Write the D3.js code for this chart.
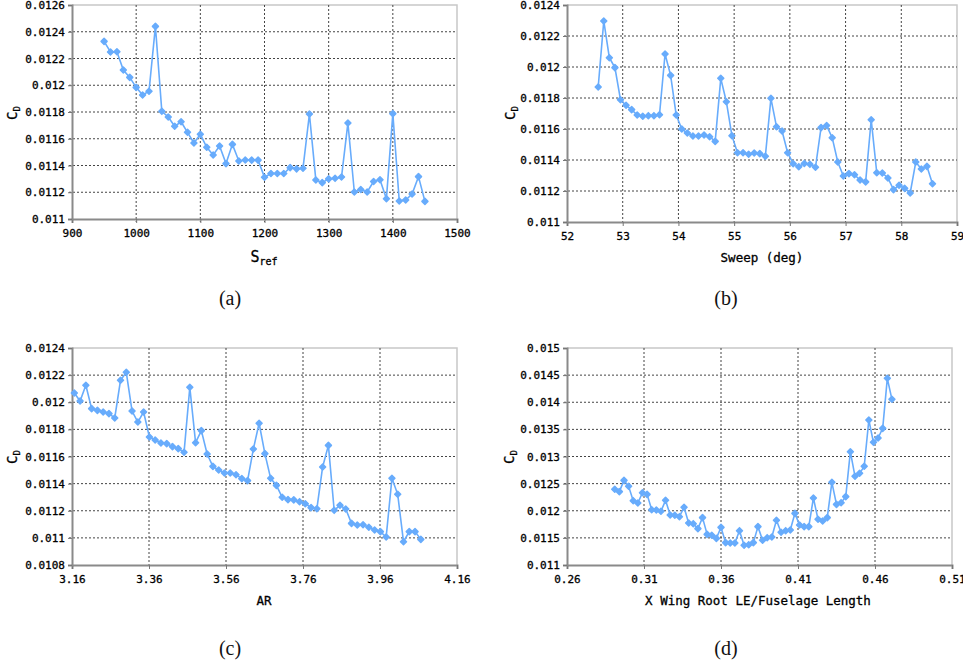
<!DOCTYPE html>
<html>
<head>
<meta charset="utf-8">
<title>CD sensitivity</title>
<script src="https://d3js.org/d3.v7.min.js"></script>
<style>
  body { margin: 0; background: #fff; }
  .tick text { font-family: "DejaVu Sans Mono", monospace; font-size: 11px; fill: #000; stroke: #000; stroke-width: 0.3px; }
  .ttl { font-family: "DejaVu Sans Mono", monospace; font-size: 12.5px; fill: #000; stroke: #000; stroke-width: 0.3px; }
  .cap { font-family: "Liberation Serif", "DejaVu Serif", serif; font-size: 20px; fill: #111; }
</style>
</head>
<body>
<div id="chart"></div>
<script>
// (a) reference area
var srefX = [950,960,970,980,990,1000,1010,1020,1030,1040,1050,1060,1070,1080,1090,1100,1110,1120,1130,1140,
  1150,1160,1170,1180,1190,1200,1210,1220,1230,1240,1250,1260,1270,1280,1290,1300,1310,1320,1330,1340,
  1350,1360,1370,1380,1390,1400,1410,1420,1430,1440,1450];
var srefCd = [0.012328,0.012249,0.01225,0.012114,0.012059,0.011984,0.011927,0.011955,0.01244,0.011805,
  0.011763,0.011693,0.011727,0.011648,0.011568,0.011633,0.011536,0.011479,0.011546,0.011414,
  0.011558,0.011434,0.011441,0.01144,0.01144,0.011312,0.01134,0.01134,0.01134,0.011384,
  0.011375,0.01138,0.011785,0.011292,0.011272,0.0113,0.011304,0.011314,0.011718,0.011202,
  0.01122,0.011202,0.01128,0.011294,0.011152,0.011788,0.011135,0.011142,0.011187,0.011317,0.011132];

// (b) sweep
var sweepX = [52.56,52.66,52.76,52.86,52.96,53.06,53.16,53.26,53.36,53.46,53.56,53.66,53.76,53.86,53.96,
  54.06,54.16,54.26,54.36,54.46,54.56,54.66,54.76,54.86,54.96,55.06,55.16,55.26,55.36,55.46,55.56,
  55.66,55.76,55.86,55.96,56.06,56.16,56.26,56.36,56.46,56.56,56.66,56.76,56.86,56.96,57.06,57.16,
  57.26,57.36,57.46,57.56,57.66,57.76,57.86,57.96,58.06,58.16,58.26,58.36,58.46,58.56];
var sweepCd = [0.011871,0.012297,0.01206,0.011996,0.011789,0.011753,0.011725,0.01169,0.011682,0.011686,
  0.011686,0.011692,0.012084,0.011946,0.01169,0.0116,0.011574,0.011555,0.011555,0.011561,
  0.01155,0.01152,0.011927,0.011776,0.011557,0.011447,0.011447,0.011437,0.011445,0.011441,
  0.011424,0.011798,0.011615,0.011587,0.011447,0.011376,0.011357,0.011378,0.011372,0.011353,
  0.011609,0.011622,0.011544,0.011387,0.011297,0.011312,0.011305,0.011271,0.011259,0.01166,
  0.011318,0.011316,0.011284,0.011209,0.011237,0.011217,0.011187,0.011387,0.011342,0.011359,0.011247];

// (c) aspect ratio
var arX = [3.166,3.181,3.196,3.211,3.226,3.241,3.256,3.271,3.286,3.301,3.316,3.331,3.346,3.361,3.376,
  3.391,3.406,3.421,3.436,3.451,3.466,3.481,3.496,3.511,3.526,3.541,3.556,3.571,3.586,3.601,3.616,
  3.631,3.646,3.661,3.676,3.691,3.706,3.721,3.736,3.751,3.766,3.781,3.796,3.811,3.826,3.841,3.856,
  3.871,3.886,3.901,3.916,3.931,3.946,3.961,3.976,3.991,4.006,4.021,4.036,4.051,4.066];
var arCd = [0.012068,0.012009,0.012125,0.011953,0.01194,0.011928,0.011916,0.011884,0.012162,0.012221,
  0.011935,0.011854,0.011928,0.011744,0.011722,0.0117,0.011695,0.011673,0.011658,0.011631,
  0.01211,0.011702,0.011791,0.011618,0.011527,0.0115,0.011478,0.011478,0.011466,0.011437,
  0.011422,0.011655,0.011845,0.011621,0.011439,0.011387,0.011299,0.011282,0.01128,0.011267,
  0.011252,0.011223,0.011215,0.011523,0.011682,0.011203,0.01124,0.011213,0.011107,0.011095,
  0.011097,0.011078,0.011058,0.011046,0.011006,0.011439,0.011321,0.010972,0.011046,0.011046,0.010989];

// (d) wing root LE position
var xleX = [0.291,0.294,0.297,0.300,0.303,0.306,0.309,0.312,0.315,0.318,0.321,0.324,0.327,0.330,0.333,
  0.336,0.339,0.342,0.345,0.348,0.351,0.354,0.357,0.360,0.363,0.366,0.369,0.372,0.375,0.378,0.381,
  0.384,0.387,0.390,0.393,0.396,0.399,0.402,0.405,0.408,0.411,0.414,0.417,0.420,0.423,0.426,0.429,
  0.432,0.435,0.438,0.441,0.444,0.447,0.450,0.453,0.456,0.459,0.462,0.465,0.468,0.471];
var xleCd = [0.012395,0.012352,0.01256,0.01245,0.012186,0.012143,0.012333,0.012302,0.01202,0.012014,
  0.01199,0.012192,0.011922,0.011916,0.011891,0.012063,0.011774,0.011762,0.01167,0.011873,
  0.011565,0.011547,0.011491,0.011694,0.011412,0.011406,0.011406,0.011633,0.011363,0.011375,
  0.011412,0.011707,0.011455,0.011504,0.011517,0.011824,0.011602,0.011633,0.011645,0.011952,
  0.011737,0.011707,0.011707,0.012235,0.011842,0.011811,0.011873,0.012524,0.012118,0.012149,
  0.01226,0.013089,0.012635,0.01269,0.012819,0.013673,0.013261,0.013341,0.013519,0.014441,0.014054];

// tick values
var ticksA = [900,1000,1100,1200,1300,1400,1500];
var ticksB = [52,53,54,55,56,57,58,59];
var ticksC = [3.16,3.36,3.56,3.76,3.96,4.16];
var ticksD = [0.26,0.31,0.36,0.41,0.46,0.51];
var yTicksA = [0.011,0.0112,0.0114,0.0116,0.0118,0.012,0.0122,0.0124,0.0126];
var yTicksB = [0.011,0.0112,0.0114,0.0116,0.0118,0.012,0.0122,0.0124];
var yTicksC = [0.0108,0.011,0.0112,0.0114,0.0116,0.0118,0.012,0.0122,0.0124];
var yTicksD = [0.011,0.0115,0.012,0.0125,0.013,0.0135,0.014,0.0145,0.015];

var W = 963, H = 661;
var blue = "#68acfc";

var svg = d3.select("#chart").append("svg")
  .attr("width", W).attr("height", H);

var fmt = function (d) { return String(+d.toFixed(5)); };

function panel(p) {
  var g = svg.append("g");
  var x = d3.scaleLinear().domain(p.xd).range([p.l, p.r]);
  var y = d3.scaleLinear().domain(p.yd).range([p.b, p.t]);

  // frame top/right
  g.append("path")
    .attr("d", "M" + p.l + "," + p.t + "H" + p.r + "V" + p.b)
    .attr("fill", "none").attr("stroke", "#c8c8c8").attr("stroke-width", 1.5);

  // grid
  g.append("g").selectAll("line").data(p.xt.slice(1, -1)).join("line")
    .attr("x1", d => x(d)).attr("x2", d => x(d))
    .attr("y1", p.t).attr("y2", p.b + 3)
    .attr("stroke", "#444").attr("stroke-dasharray", "2,2").attr("stroke-width", 1);
  g.append("g").selectAll("line").data(p.yt.slice(1, -1)).join("line")
    .attr("x1", p.l - 3).attr("x2", p.r)
    .attr("y1", d => y(d)).attr("y2", d => y(d))
    .attr("stroke", "#444").attr("stroke-dasharray", "2,2").attr("stroke-width", 1);

  // axes
  var xa = g.append("g").attr("transform", "translate(0," + p.b + ")")
    .call(d3.axisBottom(x).tickValues(p.xt).tickFormat(fmt).tickSize(4).tickPadding(6));
  var ya = g.append("g").attr("transform", "translate(" + p.l + ",0)")
    .call(d3.axisLeft(y).tickValues(p.yt).tickFormat(fmt).tickSize(4).tickPadding(3));
  [xa, ya].forEach(function (a) {
    a.select(".domain").attr("stroke", "#8a8a8a").attr("stroke-width", 2);
    a.selectAll(".tick line").attr("stroke", "#777");
    a.attr("font-family", null).attr("font-size", null);
  });

  // line + markers
  var pts = p.xs.map((v, i) => [v, p.ys[i]]);
  g.append("path").datum(pts)
    .attr("d", d3.line().x(d => x(d[0])).y(d => y(d[1])))
    .attr("fill", "none").attr("stroke", blue).attr("stroke-width", 1.6);
  g.append("g").selectAll("path").data(pts).join("path")
    .attr("d", d3.symbol().type(d3.symbolSquare).size(18))
    .attr("transform", d => "translate(" + x(d[0]) + "," + y(d[1]) + ") rotate(45)")
    .attr("fill", blue).attr("stroke", blue).attr("stroke-width", 1.5)
    .attr("stroke-linejoin", "round");

  // axis titles
  var xt = g.append("text").attr("class", "ttl")
    .attr("x", p.xtx).attr("y", p.xty).attr("text-anchor", "middle");
  xt.append("tspan").attr("font-size", p.xsub ? "15px" : null).text(p.xlab);
  if (p.xsub) xt.append("tspan").attr("font-size", "10px").attr("dy", 3).text(p.xsub);

  var yt = g.append("text").attr("class", "ttl")
    .attr("transform", "translate(" + p.ytx + "," + p.yty + ") rotate(-90)")
    .attr("text-anchor", "middle");
  yt.append("tspan").attr("font-size", "14px").text("C");
  yt.append("tspan").attr("font-size", "9px").attr("dy", 3).text("D");

  svg.append("text").attr("class", "cap")
    .attr("x", p.cx).attr("y", p.cy).attr("text-anchor", "middle").text(p.cap);
}

panel({ xs: srefX, ys: srefCd, xd: [900, 1500], yd: [0.011, 0.0126], xt: ticksA, yt: yTicksA,
  l: 72, r: 457, t: 5, b: 219, xlab: "S", xsub: "ref", xtx: 264, xty: 262, ytx: 17, yty: 113,
  cap: "(a)", cx: 230, cy: 305 });
panel({ xs: sweepX, ys: sweepCd, xd: [52, 59], yd: [0.011, 0.0124], xt: ticksB, yt: yTicksB,
  l: 567, r: 957, t: 5, b: 222, xlab: "Sweep (deg)", xtx: 762, xty: 262, ytx: 515, yty: 113,
  cap: "(b)", cx: 726, cy: 305 });
panel({ xs: arX, ys: arCd, xd: [3.16, 4.16], yd: [0.0108, 0.0124], xt: ticksC, yt: yTicksC,
  l: 72, r: 457, t: 348, b: 565, xlab: "AR", xtx: 264, xty: 605, ytx: 17, yty: 457,
  cap: "(c)", cx: 230, cy: 655 });
panel({ xs: xleX, ys: xleCd, xd: [0.26, 0.51], yd: [0.011, 0.015], xt: ticksD, yt: yTicksD,
  l: 567, r: 952, t: 348, b: 565, xlab: "X Wing Root LE/Fuselage Length", xtx: 758, xty: 605,
  ytx: 514, yty: 457, cap: "(d)", cx: 726, cy: 655 });
</script>
</body>
</html>
